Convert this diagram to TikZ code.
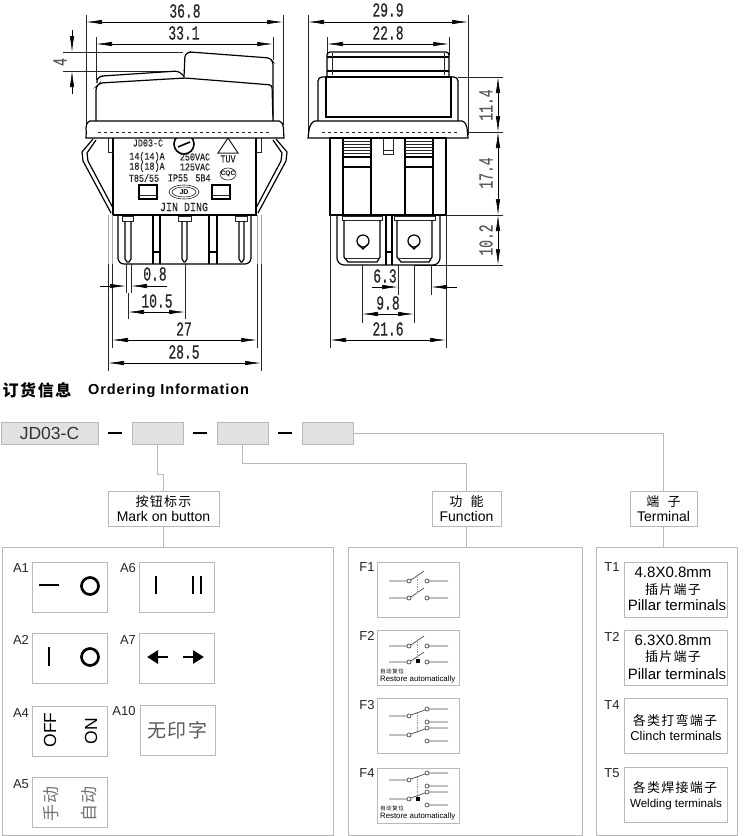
\documentclass[tikz,border=0pt]{standalone}
\usepackage{fontspec}
\usepackage{xcolor}
\usetikzlibrary{arrows.meta}
\setmainfont{Liberation Sans}
\newfontfamily\cjk[LetterSpace=10]{Noto Sans CJK SC}
\newfontfamily\dimfont[FakeStretch=0.65,FakeBold=0.5]{Liberation Mono}
\newfontfamily\platefont[FakeStretch=0.8,FakeBold=0.3]{Liberation Mono}
\definecolor{panelgray}{HTML}{B9B9B9}
\definecolor{codefill}{HTML}{E1E1E1}

\begin{document}
\begin{tikzpicture}[x=1pt,y=-1pt]
        \tikzset{
           part/.style={line width=1.2pt, black},
           fine/.style={line width=0.6pt, black!85},
           pale/.style={line width=0.7pt, black!35},
           dimline/.style={line width=0.6pt, black, {Latex[length=16pt,width=4.5pt]}-{Latex[length=16pt,width=4.5pt]}},
           dimtip/.style={line width=0.6pt, black, -{Latex[length=16pt,width=4.5pt]}},
           dimtext/.style={font=\dimfont\fontsize{20}{20}\selectfont, text=black!85, inner sep=0pt},
           platetext/.style={font=\platefont\fontsize{10.5}{11}\selectfont, text=black!85, inner sep=0pt},
           codebox/.style={draw=panelgray, fill=codefill, line width=0.8pt, minimum height=22pt, inner sep=0pt},
           headbox/.style={draw=panelgray, fill=white, line width=0.8pt, align=center, minimum height=35pt, inner sep=0pt, font=\fontsize{14}{15}\selectfont},
           panel/.style={draw=panelgray, line width=0.8pt, minimum width=#1, minimum height=288pt, inner sep=0pt},
           item/.style={draw=panelgray, fill=white, line width=0.8pt, minimum width=75pt, minimum height=50pt, inner sep=0pt},
           wideitem/.style={draw=panelgray, fill=white, line width=0.8pt, minimum width=#1, minimum height=55pt, inner sep=0pt, align=center},
           tag/.style={font=\fontsize{13}{13}\selectfont, text=black!85, inner sep=0pt},
           link/.style={draw=panelgray, line width=0.8pt},
           sign/.style={line width=2.7pt, black},
           wire/.style={line width=0.7pt, black!70}
        }
        \useasboundingbox (0,0) rectangle (750,836);
        \def\switchopen#1{
           \draw[wire] (389,#1) -- (407,#1) (411,#1-1) -- (424,#1-10) (429,#1) -- (448,#1);
           \draw[wire] (409,#1) circle (2) (427,#1) circle (2);
        }
        \def\switchthrow#1{
           \draw[wire] (389,#1) -- (407,#1) (411,#1-1) -- (425,#1-6) (429,#1-7) -- (448,#1-7) (429,#1+6) -- (448,#1+6);
           \draw[wire] (409,#1) circle (2) (427,#1-7) circle (2) (427,#1+6) circle (2);
        }

        % Side view, dimensions
        \draw[fine] (86,15) -- (86,125) (283,15) -- (283,125) (96,37) -- (96,80) (273,37) -- (273,60);
        \draw[dimline] (86,22) -- (283,22);
        \draw[dimline] (96,44) -- (273,44);
        \node[dimtext] (sideA) at (185,11) {36.8};
        \node[dimtext] (sideB) at (184,33) {33.1};
        \draw[fine] (63,52) -- (183,52) (63,71) -- (175,71);
        \draw[dimtip] (72,30) -- (72,52);
        \draw[dimtip] (72,94) -- (72,71);
        \node[dimtext, rotate=90, text=black!65] (sideC) at (60,62) {4};

        % Side view, clips and body
        \draw[part, line join=round] (93,139) -- (82,152) -- (83,161) -- (111,213) (96,140) -- (87,153) -- (88,161) -- (113,208);
        \draw[part, line join=round] (276,139) -- (287,152) -- (286,161) -- (258,213) (273,140) -- (282,153) -- (281,161) -- (256,208);
        \draw[part, fill=white] (113,136) rectangle (256,215);
        \draw[fine] (108,138) -- (108,152) -- (113,152) (261,138) -- (261,152) -- (256,152);
        \node[platetext] (plateA) at (148,143) {JD03-C};
        \draw[part, line width=1.6pt] (184,144) circle (10);
        \draw[part, line width=1.6pt] (178,147) -- (190,142);
        \draw[fine, line width=1pt] (228,138) -- (218,153) -- (238,153) -- cycle;
        \node[platetext] (plateB) at (147,157) {14(14)A};
        \node[platetext] (plateC) at (195,157) {250VAC};
        \node[platetext] (plateD) at (228,159) {TUV};
        \node[platetext] (plateE) at (147,167) {18(18)A};
        \node[platetext] (plateF) at (195,167) {125VAC};
        \node[platetext] (plateG) at (144,178) {T85/55};
        \node[platetext] (plateH) at (178,178) {IP55};
        \node[platetext] (plateI) at (203,178) {5B4};
        \draw[fine] (228,174) ellipse (8 and 6);
        \node[font=\bfseries\fontsize{6.5}{7}\selectfont, inner sep=0pt] (plateJ) at (228,174) {CQC};
        \draw[part, line width=1.8pt] (139,185) rectangle (157,199) (212,185) rectangle (230,199);
        \draw[fine] (139,195) -- (157,195) (212,195) -- (230,195);
        \draw[fine] (184,192) ellipse (15 and 7) (184,192) ellipse (12 and 5);
        \node[font=\bfseries\fontsize{7}{7}\selectfont, inner sep=0pt] (plateK) at (184,192) {JD};
        \node[platetext, font=\platefont\fontsize{12.5}{13}\selectfont] (plateL) at (184,207) {JIN DING};

        % Side view, button and flange
        \draw[part, fill=white, rounded corners=3pt] (184,77) -- (185,54) -- (190,52) -- (270,58) -- (273,62) -- (273,121) -- (184,121) -- cycle;
        \draw[part, rounded corners=3pt] (97,83) -- (97,78) -- (102,76) -- (178,71) -- (184,76);
        \draw[part, fill=white, rounded corners=3pt] (96,121) -- (96,87) -- (100,83) -- (185,78) -- (272,85) -- (273,121);
        \draw[part, fill=white] (90,121) -- (279,121) to[out=-20,in=100] (284,138) -- (86,138) to[out=80,in=200] (90,121) -- cycle;
        \draw[fine, dashed] (98,132) -- (272,132);

        % Side view, pins
        \draw[pale] (112,215) -- (112,264) (257,215) -- (257,264) (108,215) -- (108,264) (261,215) -- (261,264);
        \draw[part, rounded corners=6pt] (118,215) -- (118,264) -- (251,264) -- (251,215);
        \draw[fine] (122,216) rectangle (133,221) (178,216) rectangle (191,221) (235,216) rectangle (247,221);
        \draw[part] (125,221) -- (125,259) -- (127,262) -- (129,262) -- (131,259) -- (131,221);
        \draw[part] (182,221) -- (182,259) -- (184,262) -- (185,262) -- (187,259) -- (187,221);
        \draw[part] (239,221) -- (239,259) -- (241,262) -- (242,262) -- (244,259) -- (244,221);
        \draw[part] (153,215) -- (153,264) (160,215) -- (160,264) (153,252) -- (160,252);
        \draw[part] (209,215) -- (209,264) (217,215) -- (217,264) (209,252) -- (217,252);
        \draw[fine] (126,264) -- (126,293) (131,264) -- (131,293) (128,293) -- (128,319) (185,264) -- (185,319);
        \draw[fine] (112,264) -- (112,348) (257,264) -- (257,348) (108,264) -- (108,371) (261,264) -- (261,371);
        \draw[dimtip] (100,286) -- (126,286);
        \draw[dimtip] (167,286) -- (131,286);
        \draw[dimline] (128,312) -- (185,312);
        \draw[dimline] (112,340) -- (257,340);
        \draw[dimline] (108,363) -- (261,363);
        \node[dimtext] (sideD) at (155,274) {0.8};
        \node[dimtext] (sideE) at (157,301) {10.5};
        \node[dimtext] (sideF) at (184,329) {27};
        \node[dimtext] (sideG) at (184,352) {28.5};

        % Front view, dimensions
        \draw[fine] (308,15) -- (308,135) (468,15) -- (468,135) (327,37) -- (327,55) (449,37) -- (449,55);
        \draw[dimline] (308,22) -- (468,22);
        \draw[dimline] (327,44) -- (449,44);
        \node[dimtext] (frontA) at (388,10) {29.9};
        \node[dimtext] (frontB) at (388,33) {22.8};
        \draw[fine] (458,77) -- (503,77) (457,132) -- (503,132) (446,215) -- (503,215) (415,265) -- (503,265);
        \draw[dimline] (498,77) -- (498,132);
        \draw[dimline] (498,132) -- (498,215);
        \draw[dimline] (498,215) -- (498,265);
        \node[dimtext, rotate=90, text=black!65] (frontC) at (486,105) {11.4};
        \node[dimtext, rotate=90, text=black!65] (frontD) at (486,173) {17.4};
        \node[dimtext, rotate=90, text=black!65] (frontE) at (486,240) {10.2};

        % Front view, body
        \draw[part, fill=white, rounded corners=3pt] (327,77) -- (327,52) -- (449,52) -- (449,77);
        \draw[part] (327,57) -- (449,57) (327,71) -- (449,71);
        \draw[fine] (332,53) -- (332,75) (444,53) -- (444,75);
        \draw[part, fill=white, rounded corners=4pt] (318,121) -- (318,77) -- (458,77) -- (458,121);
        \draw[part] (326,77) rectangle (451,117);
        \draw[part, fill=white] (315,121) -- (462,121) to[out=-20,in=100] (468,138) -- (308,138) to[out=80,in=200] (315,121) -- cycle;
        \draw[fine, dashed] (322,132) -- (457,132);
        \draw[part] (330,138) rectangle (446,215);
        \draw[part] (343,138) rectangle (371,215) (405,138) rectangle (433,215);
        \draw[part] (343,157) -- (371,157) (343,167) -- (371,167) (405,157) -- (433,157) (405,167) -- (433,167);
        \draw[fine] (343,141) -- (371,141) (343,144) -- (371,144) (343,147) -- (371,147) (343,150) -- (371,150) (343,153) -- (371,153);
        \draw[fine] (405,141) -- (433,141) (405,144) -- (433,144) (405,147) -- (433,147) (405,150) -- (433,150) (405,153) -- (433,153);
        \draw[fine] (383,138) -- (383,154) -- (393,154) -- (393,138) (383,150) -- (393,150);

        % Front view, terminals
        \draw[part, rounded corners=7pt] (337,215) -- (337,265) -- (440,265) -- (440,215);
        \draw[fine] (342,216) rectangle (382,220) (394,216) rectangle (435,220);
        \draw[part] (344,220) -- (344,257) -- (348,262) -- (377,262) -- (380,257) -- (380,220);
        \draw[part] (397,220) -- (397,257) -- (401,262) -- (429,262) -- (432,257) -- (432,220);
        \draw[fine] (344,258) -- (380,258) (397,258) -- (432,258);
        \draw[part] (363,241) circle (6) (414,241) circle (6);
        \draw[part] (358,244) -- (363,249) -- (368,244) (409,244) -- (414,249) -- (419,244);
        \draw[part] (386,215) -- (386,265) (392,215) -- (392,265) (386,252) -- (392,252);
        \draw[fine] (398,265) -- (398,295) (431,265) -- (431,295) (362,265) -- (362,323) (414,265) -- (414,323) (330,215) -- (330,348) (446,215) -- (446,348);
        \draw[dimtip] (372,287) -- (398,287);
        \draw[dimtip] (457,287) -- (431,287);
        \draw[dimline] (362,314) -- (414,314);
        \draw[dimline] (330,340) -- (446,340);
        \node[dimtext] (frontF) at (385,276) {6.3};
        \node[dimtext] (frontG) at (388,303) {9.8};
        \node[dimtext] (frontH) at (388,329) {21.6};

        % Title
        \node[font=\cjk\bfseries\fontsize{16}{16}\selectfont, inner sep=0pt] (titlecn) at (37,390) {订货信息};
        \node[font=\bfseries\fontsize{14.5}{16}\selectfont\addfontfeature{LetterSpace=6}, anchor=west, inner sep=0pt] (titleen) at (88,391) {Ordering Information};

        % Code row
        \node[codebox, minimum width=97pt, font=\fontsize{17.5}{18}\selectfont, text=black!80] (code) at (49.5,433) {JD03-C};
        \node[codebox, minimum width=51pt] (codeA) at (157.5,433) {};
        \node[codebox, minimum width=51pt] (codeB) at (242.5,433) {};
        \node[codebox, minimum width=51pt] (codeC) at (327.5,433) {};
        \draw[line width=1.3pt] (108,433) -- (122,433) (193,433) -- (207,433) (278,433) -- (292,433);

        % Heads
        \node[headbox, minimum width=111pt] (headA) at (163.5,508.5) {{\cjk\fontsize{13}{15}\selectfont 按钮标示}\\Mark on button};
        \node[headbox, minimum width=69pt] (headB) at (466.5,508.5) {{\cjk\fontsize{13}{15}\selectfont 功\ \ 能}\\Function};
        \node[headbox, minimum width=67pt] (headC) at (663.5,508.5) {{\cjk\fontsize{13}{15}\selectfont 端\ \ 子}\\Terminal};
        \draw[link] (codeA.south) -- ++(0,30) -| (headA.north);
        \draw[link] (codeB.south) -- ++(0,19) -| (headB.north);
        \draw[link] (codeC.east) -| (headC.north);

        % Panels
        \node[panel=331pt] (panelA) at (167.5,691) {};
        \node[panel=234pt] (panelB) at (465,691) {};
        \node[panel=141pt] (panelC) at (666.5,691) {};
        \draw[link] (headA.south) -- (headA.south |- panelA.north);
        \draw[link] (headB.south) -- (headB.south |- panelB.north);
        \draw[link] (headC.south) -- (headC.south |- panelC.north);

        % Mark on button
        \node[item] (itemA) at (69.5,587) {};
        \node[item] (itemB) at (69.5,658) {};
        \node[item] (itemC) at (69.5,731) {};
        \node[item] (itemD) at (69.5,802) {};
        \node[item] (itemE) at (176.5,587) {};
        \node[item] (itemF) at (176.5,658) {};
        \node[item, font=\cjk\fontsize{19}{19}\selectfont, text=black!65] (itemG) at (177.5,730) {无印字};
        \node[tag] (tagA) at (21,568) {A1};
        \node[tag] (tagB) at (21,640) {A2};
        \node[tag] (tagC) at (21,713) {A4};
        \node[tag] (tagD) at (21,784) {A5};
        \node[tag] (tagE) at (128,568) {A6};
        \node[tag] (tagF) at (128,640) {A7};
        \node[tag] (tagG) at (124,711) {A10};
        \draw[sign] (39,585) -- (59,585);
        \draw[sign] (90,586) circle (8.5);
        \draw[sign] (156,576) -- (156,594) (193,576) -- (193,594) (201,576) -- (201,594);
        \draw[sign] (49,647) -- (49,666);
        \draw[sign] (90,657) circle (8.5);
        \draw[sign, -{Triangle[length=11pt,width=13pt]}] (168,657) -- (147,657);
        \draw[sign, -{Triangle[length=11pt,width=13pt]}] (183,657) -- (204,657);
        \node[rotate=90, font=\fontsize{17.5}{18}\selectfont, inner sep=0pt] (markoff) at (50,730) {OFF};
        \node[rotate=90, font=\fontsize{17.5}{18}\selectfont, inner sep=0pt] (markon) at (91,731) {ON};
        \node[rotate=90, font=\cjk\fontsize{17}{17}\selectfont, text=black!55, inner sep=0pt] (markmanual) at (51,804) {手动};
        \node[rotate=90, font=\cjk\fontsize{17}{17}\selectfont, text=black!55, inner sep=0pt] (markauto) at (89,804) {自动};

        % Function
        \node[item, minimum width=82pt, minimum height=55pt] (funcA) at (418,589.5) {};
        \node[item, minimum width=82pt, minimum height=55pt] (funcB) at (418,657.5) {};
        \node[item, minimum width=82pt, minimum height=55pt] (funcC) at (418,726) {};
        \node[item, minimum width=82pt, minimum height=55pt] (funcD) at (418,795.5) {};
        \node[tag] (tagH) at (367,567) {F1};
        \node[tag] (tagI) at (367,636) {F2};
        \node[tag] (tagJ) at (367,705) {F3};
        \node[tag] (tagK) at (367,773) {F4};
        \switchopen{581}
        \switchopen{598}
        \draw[wire, black!40, densely dotted] (417,577) -- (417,593);
        \switchopen{646}
        \switchopen{662}
        \draw[wire, black!40, densely dotted] (417,642) -- (417,658);
        \fill (416,659) rectangle (420,663);
        \switchthrow{716}
        \switchthrow{735}
        \draw[wire, black!40, densely dotted] (417,713) -- (417,732);
        \switchthrow{780}
        \switchthrow{799}
        \draw[wire, black!40, densely dotted] (417,777) -- (417,796);
        \fill (416,797) rectangle (420,801);
        \node[font=\cjk\fontsize{5.5}{6}\selectfont, anchor=west, inner sep=0pt] (noteA) at (380,671) {自动复位};
        \node[font=\fontsize{7.8}{8}\selectfont, anchor=west, inner sep=0pt] (noteB) at (380,679) {Restore automatically};
        \node[font=\cjk\fontsize{5.5}{6}\selectfont, anchor=west, inner sep=0pt] (noteC) at (380,808) {自动复位};
        \node[font=\fontsize{7.8}{8}\selectfont, anchor=west, inner sep=0pt] (noteD) at (380,816) {Restore automatically};

        % Terminal
        \node[wideitem=103pt] (termA) at (675.5,589.5) {};
        \node[wideitem=103pt] (termB) at (675.5,657.5) {};
        \node[wideitem=103pt] (termC) at (675.5,726) {};
        \node[wideitem=103pt] (termD) at (675.5,795) {};
        \node[tag] (tagL) at (612,567) {T1};
        \node[tag] (tagM) at (612,637) {T2};
        \node[tag] (tagN) at (612,705) {T4};
        \node[tag] (tagO) at (612,773) {T5};
        \node[font=\fontsize{15}{15}\selectfont, inner sep=0pt] (termtextA) at (673,572) {4.8X0.8mm};
        \node[font=\cjk\fontsize{13}{13}\selectfont, inner sep=0pt] (termtextB) at (673,590) {插片端子};
        \node[font=\fontsize{15}{15}\selectfont, inner sep=0pt] (termtextC) at (677,605) {Pillar terminals};
        \node[font=\fontsize{15}{15}\selectfont, inner sep=0pt] (termtextD) at (673,640) {6.3X0.8mm};
        \node[font=\cjk\fontsize{13}{13}\selectfont, inner sep=0pt] (termtextE) at (673,657) {插片端子};
        \node[font=\fontsize{15}{15}\selectfont, inner sep=0pt] (termtextF) at (677,674) {Pillar terminals};
        \node[font=\cjk\fontsize{13}{13}\selectfont, inner sep=0pt] (termtextG) at (675,720) {各类打弯端子};
        \node[font=\fontsize{12.8}{13}\selectfont, inner sep=0pt] (termtextH) at (676,736) {Clinch terminals};
        \node[font=\cjk\fontsize{13}{13}\selectfont, inner sep=0pt] (termtextI) at (675,788) {各类焊接端子};
        \node[font=\fontsize{11.6}{13}\selectfont, inner sep=0pt] (termtextJ) at (676,804) {Welding terminals};
    \end{tikzpicture}
\end{document}
